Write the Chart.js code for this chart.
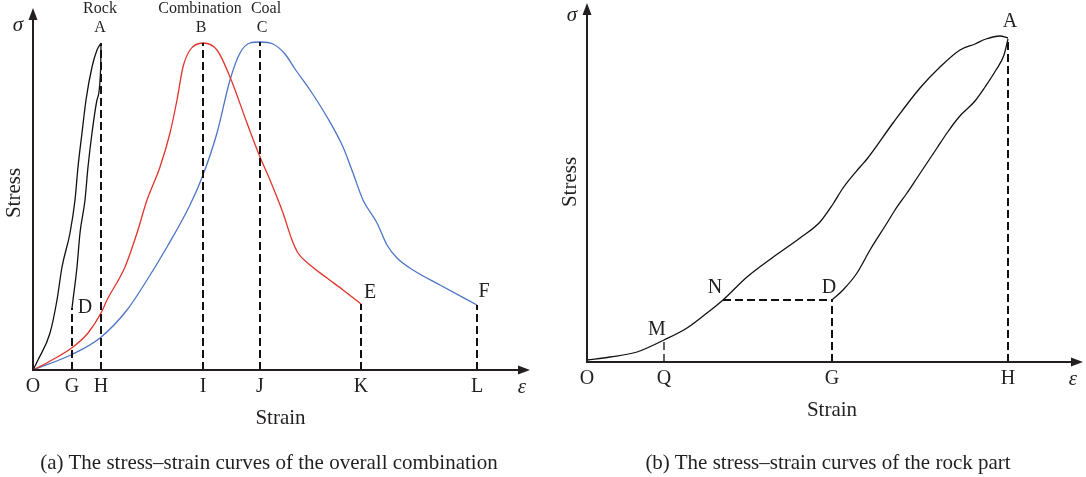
<!DOCTYPE html>
<html>
<head>
<meta charset="utf-8">
<script src="https://cdn.jsdelivr.net/npm/chart.js@4.4.1/dist/chart.umd.min.js"></script>
<style>
  body { margin: 0; background: #fff; width: 1086px; height: 477px; position: relative; overflow: hidden;
         font-family: "Liberation Serif", "DejaVu Serif", serif; color: #231f20; }
  canvas { position: absolute; top: 0; }
  #chartA { left: 0; }
  #chartB { left: 543px; }
  .cap { position: absolute; top: 450px; font-size: 21px; white-space: nowrap; transform: translateX(-50%); }
</style>
</head>
<body>
<canvas id="chartA" width="543" height="477"></canvas>
<canvas id="chartB" width="543" height="477"></canvas>
<div class="cap" style="left:269px">(a) The stress–strain curves of the overall combination</div>
<div class="cap" style="left:828px">(b) The stress–strain curves of the rock part</div>

<script>
// (a) overall combination -- strain / stress in arbitrary units
const rockLoadX = [0, 5, 17, 24, 29, 37, 42, 45, 49, 53, 59, 64, 68];
const rockLoadY = [0, 10, 37, 70, 103, 137, 170, 203, 237, 270, 303, 320, 327];
const rockUnloadX = [68, 67.7, 64, 59, 55, 52, 47, 44, 40, 39];
const rockUnloadY = [327, 303, 270, 237, 203, 170, 137, 103, 70, 62];
const combX = [0, 19, 40, 55, 68, 74, 92, 104, 114, 127, 137, 144, 150, 157, 170, 184, 197, 214, 227, 237, 250, 259, 265, 277, 294, 310, 328];
const combY = [0, 10, 23, 37, 57, 70, 103, 137, 170, 203, 237, 270, 303, 320, 327, 320, 293, 247, 213, 190, 157, 130, 117, 105, 92, 80, 66];
const coalX = [0, 40, 67, 94, 114, 134, 157, 170, 184, 197, 207, 217, 227, 240, 252, 262, 277, 294, 310, 320, 330, 344, 354, 364, 380, 407, 444];
const coalY = [0, 16, 32, 60, 90, 123, 165, 195, 237, 290, 317, 327, 328, 326, 316, 301, 280, 253, 223, 197, 170, 147, 125, 112, 100, 85, 65];
const ticksA = ['O', 'G', 'H', 'I', 'J', 'K', 'L'];
const tickPosA = [0, 39, 68, 170, 227, 328, 444];

// (b) rock part
const rockBLoadX = [0, 23, 50, 77, 100, 120, 136, 160, 185, 213, 233, 246, 256, 273, 280, 306, 333, 353, 373, 388, 399, 413, 421];
const rockBLoadY = [2, 5, 10, 22, 34, 49, 62, 85, 104, 124, 140, 158, 174, 195, 203, 239, 274, 295, 312, 318, 323, 326, 324];
const rockBUnloadX = [421, 417, 409, 398, 388, 372, 360, 350, 340, 330, 320, 308, 300, 283, 270, 256, 245];
const rockBUnloadY = [323, 307, 292, 275, 261, 245, 229, 214, 199, 184, 169, 152, 139, 112, 89, 72, 62];
const ticksB = ['O', 'Q', 'G', 'H'];
const tickPosB = [0, 77, 245, 421];

const ink = '#231f20';
const serif = '"Liberation Serif", "DejaVu Serif", serif';

function pts(xs, ys) {
    return xs.map((x, i) => ({ x: x, y: ys[i] }));
}

function curve(xs, ys, color) {
    return { data: pts(xs, ys), borderColor: color, borderWidth: 1.3, cubicInterpolationMode: 'monotone',
             pointRadius: 0, showLine: true };
}

function dashed(x0, y0, x1, y1, w) {
    return { data: [{ x: x0, y: y0 }, { x: x1, y: y1 }], borderColor: '#111', borderWidth: w || 2,
             borderDash: [8, 4], pointRadius: 0, showLine: true, tension: 0 };
}

// axes with arrows + all letters
const sketch = {
    id: 'sketch',
    afterDatasetsDraw(chart, args, o) {
        const { ctx, chartArea: a, scales: { x, y } } = chart;
        ctx.save();
        ctx.strokeStyle = ink;
        ctx.fillStyle = ink;
        ctx.lineWidth = 2;
        ctx.beginPath();
        ctx.moveTo(a.left, a.top + 8);
        ctx.lineTo(a.left, a.bottom);
        ctx.lineTo(a.right - 8, a.bottom);
        ctx.stroke();
        ctx.beginPath();
        ctx.moveTo(a.left, a.top);
        ctx.lineTo(a.left - 4.5, a.top + 12);
        ctx.lineTo(a.left + 4.5, a.top + 12);
        ctx.fill();
        ctx.beginPath();
        ctx.moveTo(a.right, a.bottom);
        ctx.lineTo(a.right - 12, a.bottom - 4.5);
        ctx.lineTo(a.right - 12, a.bottom + 4.5);
        ctx.fill();

        ctx.textAlign = 'center';
        ctx.textBaseline = 'middle';
        ctx.font = '20px ' + serif;
        o.ticks.forEach((t, i) => ctx.fillText(t, x.getPixelForValue(o.tickPos[i]), a.bottom + 17));
        o.marks.forEach(m => {
            ctx.font = (m.size || 20) + 'px ' + serif;
            ctx.fillText(m.t, x.getPixelForValue(m.x) + m.dx, y.getPixelForValue(m.y) + m.dy);
        });
        ctx.font = 'italic 21px ' + serif;
        ctx.fillText('σ', a.left + o.sigma[0], a.top + o.sigma[1]);
        ctx.fillText('ε', a.right + o.eps, a.bottom + 17);
        ctx.font = '21px ' + serif;
        ctx.fillText('Strain', (a.left + a.right) / 2 + o.strainDx, a.bottom + 48);
        ctx.translate(a.left + o.stressDx, o.stressY);
        ctx.rotate(-Math.PI / 2);
        ctx.fillText('Stress', 0, 0);
        ctx.restore();
    }
};

function options(xMax, yMax, pad, sk) {
    return {
        responsive: false,
        animation: false,
        events: [],
        layout: { padding: pad },
        scales: {
            x: { type: 'linear', min: 0, max: xMax, display: false },
            y: { type: 'linear', min: 0, max: yMax, display: false }
        },
        plugins: { legend: { display: false }, tooltip: { enabled: false }, sketch: sk }
    };
}

new Chart(document.getElementById('chartA'), {
    type: 'scatter',
    data: {
        datasets: [
            dashed(39, 0, 39, 62),
            dashed(68, 0, 68, 327),
            dashed(170, 0, 170, 327),
            dashed(227, 0, 227, 328),
            dashed(328, 0, 328, 66),
            dashed(444, 0, 444, 65),
            curve(rockLoadX, rockLoadY, '#111'),
            curve(rockUnloadX, rockUnloadY, '#111'),
            curve(combX, combY, '#e2342a'),
            curve(coalX, coalY, '#4d74c6')
        ]
    },
    options: options(497, 362, { left: 33, top: 8, right: 13, bottom: 107 }, {
        ticks: ticksA, tickPos: tickPosA,
        marks: [
            { t: 'A', x: 68, y: 327, dx: -1, dy: -15, size: 16 },
            { t: 'B', x: 170, y: 327, dx: -2, dy: -15, size: 16 },
            { t: 'C', x: 227, y: 328, dx: 2, dy: -14, size: 16 },
            { t: 'Rock', x: 68, y: 327, dx: -1, dy: -34, size: 16 },
            { t: 'Combination', x: 170, y: 327, dx: -3, dy: -34, size: 16 },
            { t: 'Coal', x: 227, y: 328, dx: 6, dy: -33, size: 16 },
            { t: 'D', x: 39, y: 62, dx: 13, dy: 0 },
            { t: 'E', x: 328, y: 66, dx: 9, dy: -11 },
            { t: 'F', x: 444, y: 65, dx: 7, dy: -13 }
        ],
        sigma: [-15, 17], eps: -8, strainDx: -1, stressDx: -19, stressY: 193
    }),
    plugins: [sketch]
});

new Chart(document.getElementById('chartB'), {
    type: 'scatter',
    data: {
        datasets: [
            dashed(136, 62, 245, 62),
            dashed(245, 0, 245, 62),
            dashed(77, 0, 77, 22, 1.3),
            dashed(421, 0, 421, 324),
            curve(rockBLoadX, rockBLoadY, '#111'),
            curve(rockBUnloadX, rockBUnloadY, '#111')
        ]
    },
    options: options(496, 359, { left: 44, top: 3, right: 3, bottom: 115 }, {
        ticks: ticksB, tickPos: tickPosB,
        marks: [
            { t: 'A', x: 421, y: 324, dx: 2, dy: -16 },
            { t: 'D', x: 245, y: 62, dx: -3, dy: -12 },
            { t: 'N', x: 136, y: 62, dx: -8, dy: -12 },
            { t: 'M', x: 77, y: 22, dx: -7, dy: -10 }
        ],
        sigma: [-15, 12], eps: -10, strainDx: -3, stressDx: -17, stressY: 182
    }),
    plugins: [sketch]
});
</script>
</body>
</html>
